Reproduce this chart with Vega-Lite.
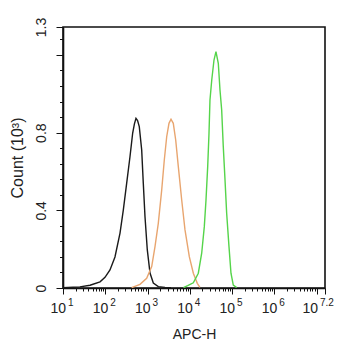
{
  "$schema": "https://vega.github.io/schema/vega-lite/v6.json",
  "width": 262,
  "height": 261,
  "autosize": {"type": "none"},
  "padding": {"left": 63, "top": 27, "right": 20, "bottom": 62},
  "background": "white",
  "config": {
    "font": "Liberation Sans",
    "view": {"stroke": "#111", "strokeWidth": 1.6},
    "axis": {"domainColor": "#111", "domainWidth": 1.6, "tickColor": "#111", "tickWidth": 1, "labelColor": "#222", "titleColor": "#222", "grid": false, "labelFont": "Liberation Sans", "titleFont": "Liberation Sans", "titleFontWeight": "normal"}
  },
  "resolve": {"axis": {"x": "independent", "y": "independent"}},
  "layer": [
    {
      "data": {
        "values": [
          {"series": "black", "x": 10, "c": 0.001},
          {"series": "black", "x": 17.3, "c": 0.004},
          {"series": "black", "x": 25.1, "c": 0.006},
          {"series": "black", "x": 43.6, "c": 0.014},
          {"series": "black", "x": 75.2, "c": 0.032},
          {"series": "black", "x": 98.6, "c": 0.055},
          {"series": "black", "x": 129.4, "c": 0.093},
          {"series": "black", "x": 169.8, "c": 0.16},
          {"series": "black", "x": 223.4, "c": 0.283},
          {"series": "black", "x": 267.3, "c": 0.401},
          {"series": "black", "x": 321.4, "c": 0.54},
          {"series": "black", "x": 384.6, "c": 0.676},
          {"series": "black", "x": 445.6, "c": 0.798},
          {"series": "black", "x": 489.8, "c": 0.845},
          {"series": "black", "x": 533.3, "c": 0.874},
          {"series": "black", "x": 582, "c": 0.862},
          {"series": "black", "x": 638.3, "c": 0.831},
          {"series": "black", "x": 727.8, "c": 0.711},
          {"series": "black", "x": 794.3, "c": 0.54},
          {"series": "black", "x": 871, "c": 0.368},
          {"series": "black", "x": 988.6, "c": 0.196},
          {"series": "black", "x": 1145.5, "c": 0.077},
          {"series": "black", "x": 1371, "c": 0.026},
          {"series": "black", "x": 1799, "c": 0.007},
          {"series": "black", "x": 2594, "c": 0.003},
          {"series": "black", "x": 3597, "c": 0.001},
          {"series": "orange", "x": 421.7, "c": 0.002},
          {"series": "orange", "x": 663.7, "c": 0.019},
          {"series": "orange", "x": 955, "c": 0.05},
          {"series": "orange", "x": 1256, "c": 0.11},
          {"series": "orange", "x": 1503, "c": 0.213},
          {"series": "orange", "x": 1799, "c": 0.333},
          {"series": "orange", "x": 2168, "c": 0.505},
          {"series": "orange", "x": 2495, "c": 0.659},
          {"series": "orange", "x": 2844, "c": 0.779},
          {"series": "orange", "x": 3221, "c": 0.848},
          {"series": "orange", "x": 3597, "c": 0.869},
          {"series": "orange", "x": 4074, "c": 0.848},
          {"series": "orange", "x": 4645, "c": 0.762},
          {"series": "orange", "x": 5358, "c": 0.625},
          {"series": "orange", "x": 6442, "c": 0.453},
          {"series": "orange", "x": 7709, "c": 0.299},
          {"series": "orange", "x": 9750, "c": 0.161},
          {"series": "orange", "x": 12134, "c": 0.076},
          {"series": "orange", "x": 15066, "c": 0.024},
          {"series": "orange", "x": 17378, "c": 0.003},
          {"series": "green", "x": 7079, "c": 0.002},
          {"series": "green", "x": 8913, "c": 0.012},
          {"series": "green", "x": 12134, "c": 0.027},
          {"series": "green", "x": 15922, "c": 0.076},
          {"series": "green", "x": 19143, "c": 0.179},
          {"series": "green", "x": 22080, "c": 0.316},
          {"series": "green", "x": 24210, "c": 0.453},
          {"series": "green", "x": 26546, "c": 0.625},
          {"series": "green", "x": 28510, "c": 0.797},
          {"series": "green", "x": 30061, "c": 0.968},
          {"series": "green", "x": 33113, "c": 1.071},
          {"series": "green", "x": 37411, "c": 1.174},
          {"series": "green", "x": 41687, "c": 1.217},
          {"series": "green", "x": 47315, "c": 1.157},
          {"series": "green", "x": 51880, "c": 1.02},
          {"series": "green", "x": 56885, "c": 0.917},
          {"series": "green", "x": 62087, "c": 0.728},
          {"series": "green", "x": 68234, "c": 0.556},
          {"series": "green", "x": 74645, "c": 0.385},
          {"series": "green", "x": 84723, "c": 0.213},
          {"series": "green", "x": 94406, "c": 0.076},
          {"series": "green", "x": 107152, "c": 0.015},
          {"series": "green", "x": 128825, "c": 0.002}
        ]
      },
      "mark": {"type": "line", "strokeWidth": 1.4, "interpolate": "linear", "clip": true},
      "encoding": {
        "x": {
          "field": "x", "type": "quantitative",
          "scale": {"type": "log", "domain": [10, 15848932], "nice": false},
          "axis": {
            "title": "APC-H", "titleFontSize": 14, "titlePadding": 33,
            "values": [10,20,30,40,50,60,70,80,90,100,200,300,400,500,600,700,800,900,1000,2000,3000,4000,5000,6000,7000,8000,9000,10000,20000,30000,40000,50000,60000,70000,80000,90000,100000,200000,300000,400000,500000,600000,700000,800000,900000,1000000,2000000,3000000,4000000,5000000,6000000,7000000,8000000,9000000,10000000,15848932],
            "tickSize": {"condition": {"test": "indexof([10,100,1000,10000,100000,1000000,10000000,15848932], datum.value) >= 0", "value": 6}, "value": 3},
            "labels": false
          }
        },
        "y": {
          "field": "c", "type": "quantitative",
          "scale": {"domain": [0, 1.344], "nice": false, "zero": true},
          "axis": {
            "title": "Count (10³)", "titleFontSize": 16, "titlePadding": 9,
            "values": [0,0.08,0.16,0.24,0.32,0.4,0.48,0.56,0.64,0.72,0.8,0.88,0.96,1.04,1.12,1.2,1.28,1.344],
            "tickSize": {"condition": {"test": "indexof([0,0.4,0.8,1.2,1.344], datum.value) >= 0", "value": 7}, "value": 3.5},
            "labelExpr": "datum.value == 0 ? '0' : datum.value == 0.4 ? '0.4' : datum.value == 0.8 ? '0.8' : datum.value > 1.3 ? '1.3' : ''",
            "labelAngle": -90, "labelAlign": "center", "labelBaseline": "bottom",
            "labelFontSize": 14, "labelPadding": 8, "labelOverlap": false, "labelFlush": false
          }
        },
        "color": {
          "field": "series", "type": "nominal",
          "scale": {"domain": ["black", "orange", "green"], "range": ["#1a1a1a", "#e8a56f", "#55d44a"]},
          "legend": null
        },
        "detail": {"field": "series"}
      }
    },
    {
      "data": {
        "values": [
          {"v": 10, "base": "10", "exp": "1", "last": false},
          {"v": 100, "base": "10", "exp": "2", "last": false},
          {"v": 1000, "base": "10", "exp": "3", "last": false},
          {"v": 10000, "base": "10", "exp": "4", "last": false},
          {"v": 100000, "base": "10", "exp": "5", "last": false},
          {"v": 1000000, "base": "10", "exp": "6", "last": false},
          {"v": 15848932, "base": "10", "exp": "7.2", "last": true}
        ]
      },
      "layer": [
        {
          "transform": [{"filter": "!datum.last"}],
          "mark": {"type": "text", "align": "right", "baseline": "alphabetic", "dx": 3, "dy": 25, "fontSize": 14, "color": "#222", "clip": false},
          "encoding": {"x": {"field": "v", "type": "quantitative", "axis": null}, "y": {"datum": 0, "axis": null}, "text": {"field": "base"}}
        },
        {
          "transform": [{"filter": "!datum.last"}],
          "mark": {"type": "text", "align": "left", "baseline": "alphabetic", "dx": 5, "dy": 18, "fontSize": 10, "color": "#222", "clip": false},
          "encoding": {"x": {"field": "v", "type": "quantitative", "axis": null}, "y": {"datum": 0, "axis": null}, "text": {"field": "exp"}}
        },
        {
          "transform": [{"filter": "datum.last"}],
          "mark": {"type": "text", "align": "right", "baseline": "alphabetic", "dx": -7, "dy": 25, "fontSize": 14, "color": "#222", "clip": false},
          "encoding": {"x": {"field": "v", "type": "quantitative", "axis": null}, "y": {"datum": 0, "axis": null}, "text": {"field": "base"}}
        },
        {
          "transform": [{"filter": "datum.last"}],
          "mark": {"type": "text", "align": "left", "baseline": "alphabetic", "dx": -5, "dy": 18, "fontSize": 10, "color": "#222", "clip": false},
          "encoding": {"x": {"field": "v", "type": "quantitative", "axis": null}, "y": {"datum": 0, "axis": null}, "text": {"field": "exp"}}
        }
      ]
    }
  ]
}
